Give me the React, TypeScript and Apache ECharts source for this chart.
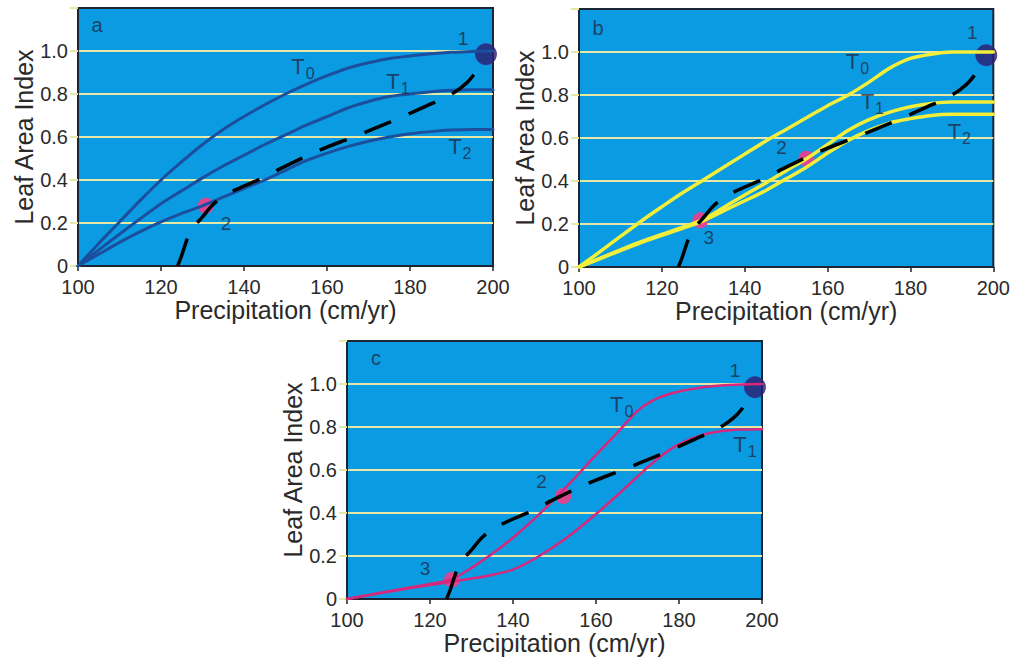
import React, { useEffect, useRef } from 'react';
import * as echarts from 'echarts';

// Precipitation (cm/yr) sample points shared by the response curves
const PRECIP = [100, 105, 110, 115, 120, 125, 130, 135, 140, 145, 150, 155, 160, 165, 170, 175, 180, 185, 190, 195, 200];

// Panel a
const A_T0 = [0, 0.105, 0.205, 0.305, 0.4, 0.485, 0.565, 0.635, 0.695, 0.75, 0.8, 0.845, 0.885, 0.92, 0.945, 0.965, 0.977, 0.987, 0.994, 0.998, 1.0];
const A_T1 = [0, 0.075, 0.148, 0.22, 0.29, 0.35, 0.41, 0.465, 0.515, 0.565, 0.61, 0.655, 0.695, 0.735, 0.765, 0.788, 0.8, 0.81, 0.817, 0.82, 0.82];
const A_T2 = [0, 0.055, 0.11, 0.16, 0.205, 0.245, 0.28, 0.32, 0.36, 0.4, 0.445, 0.49, 0.525, 0.555, 0.58, 0.6, 0.615, 0.625, 0.632, 0.635, 0.635];

// Panel b
const B_T0 = [0, 0.07, 0.142, 0.213, 0.28, 0.345, 0.405, 0.465, 0.525, 0.585, 0.64, 0.695, 0.75, 0.8, 0.86, 0.925, 0.97, 0.99, 1.0, 1.0, 1.0];
const B_T1 = [0, 0.04, 0.08, 0.118, 0.152, 0.185, 0.222, 0.278, 0.335, 0.39, 0.448, 0.505, 0.57, 0.636, 0.685, 0.72, 0.745, 0.76, 0.767, 0.767, 0.767];
const B_T2 = [0, 0.038, 0.076, 0.113, 0.147, 0.18, 0.215, 0.262, 0.308, 0.355, 0.41, 0.465, 0.53, 0.589, 0.635, 0.67, 0.69, 0.705, 0.71, 0.71, 0.71];

// Panel c
const C_T0 = [0, 0.018, 0.036, 0.053, 0.07, 0.09, 0.145, 0.21, 0.285, 0.37, 0.465, 0.565, 0.67, 0.77, 0.875, 0.935, 0.965, 0.983, 0.993, 0.998, 1.0];
const C_T1 = [0, 0.017, 0.034, 0.05, 0.065, 0.08, 0.095, 0.112, 0.137, 0.185, 0.245, 0.315, 0.395, 0.48, 0.57, 0.655, 0.72, 0.76, 0.78, 0.788, 0.79];

// Dashed threshold curve (same in all panels)
const THRESH_X = [124, 125, 126.5, 128, 130, 132, 134, 137, 140, 144, 148, 152, 156, 160, 165, 170, 175, 180, 184, 187, 190, 192, 194, 196];
const THRESH_Y = [0, 0.05, 0.135, 0.185, 0.228, 0.275, 0.31, 0.345, 0.372, 0.405, 0.445, 0.483, 0.52, 0.553, 0.59, 0.628, 0.668, 0.71, 0.745, 0.77, 0.8, 0.825, 0.858, 0.905];

// Points
const NAVY_POINT = [198.3, 0.985];
const A_PINK = [[130.8, 0.28]];
const B_PINK = [[129.3, 0.217], [154.9, 0.504]];
const C_PINK = [[125.3, 0.09], [152.1, 0.479]];

// Annotations: [text, x, y]
const A_LABELS: [string, number, number][] = [['T0', 154.2, 0.925], ['T1', 177.1, 0.855], ['T2', 192.0, 0.553], ['1', 192.8, 1.06], ['2', 135.7, 0.199], ['a', 104.6, 1.12]];
const B_LABELS: [string, number, number][] = [['T0', 167.2, 0.952], ['T1', 170.8, 0.766], ['T2', 191.8, 0.626], ['1', 194.9, 1.092], ['2', 148.9, 0.557], ['3', 131.3, 0.138], ['b', 104.6, 1.11]];
const C_LABELS: [string, number, number][] = [['T0', 166.2, 0.902], ['T1', 195.9, 0.716], ['1', 193.5, 1.065], ['2', 146.9, 0.546], ['3', 118.8, 0.144], ['c', 107, 1.12]];

const X_MIN = 100, X_MAX = 200, X_STEP = 20;
const Y_MIN = 0, Y_MAX = 1.2, Y_STEP = 0.2;

const FONT = '"Liberation Sans", Arial, Helvetica, sans-serif';
const BG = '#0b9be2';
const GRIDLINE = '#e6e8a6';
const FRAME = '#1c2533';
const TEXT = '#2a2a2a';
const LABEL = '#1d2a44';

export default function App() {
  const ref = useRef<HTMLDivElement>(null);
  useEffect(() => {
    if (!ref.current) return;
    const chart = echarts.init(ref.current, undefined, { renderer: 'svg' });

    const grids = [
      { left: 78, top: 8, width: 415, height: 258 },
      { left: 579, top: 9, width: 415, height: 258 },
      { left: 347, top: 341, width: 415, height: 258 },
    ].map((g) => ({ ...g, show: true, backgroundColor: BG, borderColor: FRAME, borderWidth: 2, z: 0 }));

    const xAxes = grids.map((_, i) => ({
      type: 'value', gridIndex: i, min: X_MIN, max: X_MAX, interval: X_STEP,
      name: 'Precipitation (cm/yr)', nameLocation: 'middle', nameGap: 28,
      nameTextStyle: { fontFamily: FONT, fontSize: 25, color: TEXT },
      axisLine: { show: true, lineStyle: { color: FRAME, width: 2 } },
      axisTick: { show: true, length: 5, lineStyle: { color: FRAME, width: 1.5 } },
      axisLabel: { fontFamily: FONT, fontSize: 20, color: TEXT, margin: 11 },
      splitLine: { show: false },
    }));
    const yAxes = grids.map((_, i) => ({
      type: 'value', gridIndex: i, min: Y_MIN, max: Y_MAX, interval: Y_STEP,
      name: 'Leaf Area Index', nameLocation: 'middle', nameGap: 42,
      nameTextStyle: { fontFamily: FONT, fontSize: 25, color: TEXT },
      axisLine: { show: true, lineStyle: { color: FRAME, width: 2 } },
      axisTick: { show: true, length: 8, lineStyle: { color: GRIDLINE, width: 2 } },
      axisLabel: {
        fontFamily: FONT, fontSize: 20, color: TEXT, margin: 10,
        formatter: (v: number) => (v === 0 ? '0' : v > 1.1 ? '' : v.toFixed(1)),
      },
      splitLine: { show: true, showMinLine: false, showMaxLine: false, lineStyle: { color: GRIDLINE, width: 2 } },
    }));

    const series: any[] = [];
    const curve = (i: number, ys: number[], color: string, width: number) => ({
      type: 'line', xAxisIndex: i, yAxisIndex: i, data: PRECIP.map((x, k) => [x, ys[k]]),
      smooth: 0.3, showSymbol: false, symbol: 'none',
      lineStyle: { color, width, cap: 'round', join: 'round' }, z: 4, silent: true,
    });
    const thresh = (i: number) => ({
      type: 'line', xAxisIndex: i, yAxisIndex: i, data: THRESH_X.map((x, k) => [x, THRESH_Y[k]]),
      smooth: 0.3, showSymbol: false, symbol: 'none',
      lineStyle: { color: '#000', width: 3.5, type: [29, 19] }, z: 5, silent: true,
    });
    const pinks = (i: number, pts: number[][]) => ({
      type: 'scatter', xAxisIndex: i, yAxisIndex: i, data: pts, symbolSize: 16,
      itemStyle: { color: '#e6428c', opacity: 0.95 }, z: 3, silent: true,
    });
    const navy = (i: number) => ({
      type: 'scatter', xAxisIndex: i, yAxisIndex: i, data: [NAVY_POINT], symbolSize: 21, clip: false,
      itemStyle: { color: '#2a1c6e', borderColor: '#3a2c8e', borderWidth: 1 }, z: 3, silent: true,
    });
    const labels = (i: number, list: [string, number, number][]) => ({
      type: 'scatter', xAxisIndex: i, yAxisIndex: i, symbolSize: 0, z: 10, silent: true,
      data: list.map(([t, x, y]) => ({
        value: [x, y],
        label: {
          show: true, position: 'inside',
          formatter: t.length === 2 ? `{t|${t[0]}}{s|${t[1]}}` : /[abc]/.test(t) ? `{p|${t}}` : `{n|${t}}`,
        },
      })),
      label: {
        show: true,
        rich: {
          t: { fontFamily: FONT, fontSize: 22, color: LABEL, lineHeight: 24, verticalAlign: 'top' },
          s: { fontFamily: FONT, fontSize: 16, color: LABEL, lineHeight: 16, verticalAlign: 'top', padding: [10, 0, 0, 1] },
          n: { fontFamily: FONT, fontSize: 19, color: LABEL },
          p: { fontFamily: FONT, fontSize: 20, color: LABEL },
        },
      },
    });

    // Panel a
    series.push(pinks(0, A_PINK), navy(0));
    series.push(curve(0, A_T0, '#1b4f9e', 3), curve(0, A_T1, '#1b4f9e', 3), curve(0, A_T2, '#1b4f9e', 3), thresh(0));
    series.push(labels(0, A_LABELS));
    // Panel b
    series.push(pinks(1, B_PINK), navy(1));
    series.push(curve(1, B_T0, '#f2ee3a', 3.5), curve(1, B_T1, '#f2ee3a', 3.5), curve(1, B_T2, '#f2ee3a', 3.5), thresh(1));
    series.push(labels(1, B_LABELS));
    // Panel c
    series.push(pinks(2, C_PINK), navy(2));
    series.push(curve(2, C_T0, '#d8287c', 2.5), curve(2, C_T1, '#d8287c', 2.5), thresh(2));
    series.push(labels(2, C_LABELS));

    chart.setOption({
      animation: false,
      backgroundColor: '#ffffff',
      textStyle: { fontFamily: FONT },
      grid: grids,
      xAxis: xAxes,
      yAxis: yAxes,
      series,
    });
    return () => chart.dispose();
  }, []);

  return <div ref={ref} style={{ position: 'fixed', left: 0, top: 0, width: 1013, height: 658 }} />;
}
